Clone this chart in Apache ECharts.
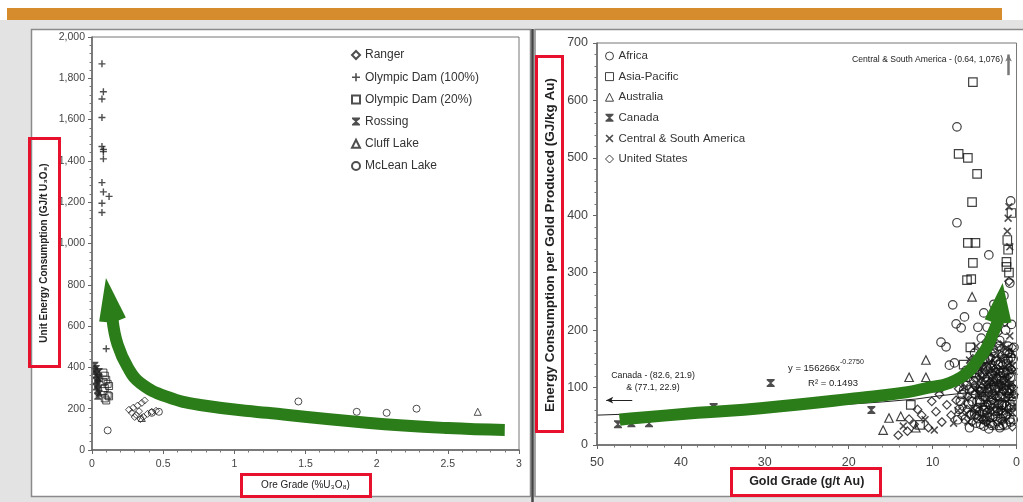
<!DOCTYPE html>
<html>
<head>
<meta charset="utf-8">
<script src="https://cdn.jsdelivr.net/npm/echarts@6/dist/echarts.min.js"></script>
<style>
html,body{margin:0;padding:0;background:#fff;}
#chart{width:1023px;height:502px;}
</style>
</head>
<body>
<div id="chart"></div>
<script>
// ---------- Uranium: unit energy vs ore grade ----------
const uraniumSeriesNames = ['Ranger', 'Olympic Dam (100%)', 'Olympic Dam (20%)', 'Rossing', 'Cluff Lake', 'McLean Lake'];
const oreGradeTicks = [0, 0.5, 1, 1.5, 2, 2.5, 3];
const ranger = [[0.26,195],[0.28,180],[0.29,205],[0.31,170],[0.32,215],[0.33,188],[0.35,228],[0.36,160],[0.37,240],[0.39,175],[0.42,185],[0.45,190],[0.30,160],[0.34,150]];
const olympicDam100 = [[0.07,1870],[0.08,1735],[0.07,1700],[0.07,1610],[0.07,1470],[0.08,1455],[0.08,1445],[0.08,1410],[0.07,1295],[0.08,1250],[0.12,1228],[0.07,1195],[0.07,1150],[0.10,490]];
const olympicDam20 = [[0.08,375],[0.09,360],[0.10,340],[0.11,320],[0.09,300],[0.08,285],[0.11,265],[0.09,250],[0.10,240],[0.08,330],[0.12,310],[0.12,260]];
const rossing = [[0.02,410],[0.03,395],[0.02,380],[0.03,365],[0.04,350],[0.03,335],[0.04,320],[0.03,305],[0.04,290],[0.05,275],[0.04,260],[0.05,380],[0.05,345]];
const cluffLake = [[2.71,185],[0.35,155]];
const mcleanLake = [[0.11,95],[1.45,235],[1.86,185],[2.07,180],[2.28,200],[0.42,180],[0.47,185]];

// ---------- Gold: energy per kg vs gold grade ----------
const goldSeriesNames = ['Africa', 'Asia-Pacific', 'Australia', 'Canada', 'Central & South America', 'United States'];
const goldGradeTicks = [50, 40, 30, 20, 10, 0];
const africa = [[7.1,554],[7.1,387],[3.3,331],[7.6,244],[6.2,223],[7.2,211],[6.6,204],[9.0,179],[8.4,171],[8.0,139],[7.4,143],[0.8,282],[0.7,425],
  [6.8,62],[6.5,88],[6.1,45],[5.9,104],[5.7,71],[5.5,130],[5.4,52],[5.2,95],[5.0,160],[4.9,118],[4.8,38],[4.7,76],[4.5,142],[4.4,58],[4.3,101],[4.2,186],[4.1,125],
  [4.0,84],[3.9,33],[3.8,150],[3.7,66],[3.6,110],[3.5,205],[3.4,92],[3.3,170],[3.2,48],[3.1,134],[3.0,78],[2.9,196],[2.8,115],[2.7,58],[2.6,160],[2.5,98],[2.4,225],
  [2.3,41],[2.2,140],[2.1,72],[2.0,182],[1.9,120],[1.8,88],[1.7,232],[1.6,55],[1.5,150],[1.4,104],[1.3,200],[1.2,68],[1.1,130],[1.0,172],[0.9,90],[0.8,45],[0.7,118],
  [0.6,210],[0.5,76],[0.4,150],[3.3,28],[2.0,30],[1.2,35],[5.6,30],[4.6,205],[3.9,230],[2.7,245],[1.5,260],
  [5.8,118],[5.6,96],[5.3,76],[5.1,112],[4.9,88],[4.7,132],[4.6,64],[4.4,122],[4.3,74],[4.1,98],[4.0,146],[3.9,62],[3.8,118],[3.7,84],[3.6,136],[3.5,56],
  [3.4,118],[3.3,98],[3.2,152],[3.1,70],[3.0,124],[2.9,88],[2.8,168],[2.7,104],[2.6,72],[2.5,146],[2.4,116],[2.3,64],[2.2,100],[2.1,172],[2.0,84],[1.9,144],
  [1.8,112],[1.7,70],[1.6,126],[1.5,98],[1.4,164],[1.3,82],[1.2,142],[1.1,92],[1.0,148],[0.9,124],[0.8,98],[0.7,152],[0.6,66],[0.5,118],[0.4,84],[0.3,170],
  [4.6,46],[3.9,44],[3.1,38],[2.5,50],[1.9,46],[1.3,52],[0.7,40],[5.0,54],[2.9,34],[4.3,36],[1.6,36],[0.4,44],[6.3,96],[6.0,130],[6.7,76],[7.0,44]];
const asiaPacific = [[5.2,632],[6.9,507],[5.8,500],[4.7,472],[5.3,423],[0.6,404],[5.8,352],[4.9,352],[5.2,317],[5.9,287],[5.4,289],[1.1,357],[1.2,319],[1.2,310],[0.9,300],[1.0,340],
  [4.4,80],[3.0,100],[2.2,60],[1.5,126],[0.8,70],[5.5,170],[6.3,140],[1.2,95],[12.6,70],[11.5,35],
  [4.2,92],[3.4,150],[2.6,96],[1.8,70],[1.1,160],[0.5,96],[5.0,126],[3.8,60]];
const australia = [[5.3,258],[10.8,148],[12.8,118],[10.8,118],[15.9,26],[15.2,47],[4.0,108],[2.8,140],[1.9,34],[0.6,160],[13.8,50],[12.0,30],[9.3,100],[3.6,50]];
const canada = [[47.5,36],[45.9,38],[43.8,38],[36.1,66],[29.3,108],[17.3,61]];
const centralSouthAmerica = [[7.5,38],[7.0,60],[6.6,110],[6.0,80],[5.6,148],[5.2,64],[4.8,172],[4.5,112],[4.2,48],[3.8,96],[3.5,138],[3.2,188],[2.9,62],[2.6,116],
  [2.3,92],[2.0,150],[1.7,108],[1.5,42],[1.3,168],[1.0,112],[0.8,190],[0.5,56],[0.3,128],[13.5,33],[10.9,44],[9.8,26],[0.9,415],[1.1,372],[0.8,345],[1.0,395],
  [6.2,100],[5.8,40],[5.4,122],[5.0,96],[4.7,56],[4.5,88],[4.2,116],[3.9,140],[3.7,52],[3.5,80],[3.3,126],[3.1,92],[2.9,114],[2.7,130],[2.5,68],[2.4,104],
  [2.2,122],[2.0,62],[1.8,134],[1.6,78],[1.4,118],[1.2,104],[1.0,58],[0.9,142],[0.7,104],[0.5,138],[0.4,66],[3.4,160],[2.4,160],[1.6,176]];
const unitedStates = [[7.8,52],[7.2,78],[6.9,98],[6.4,66],[6.2,118],[5.8,84],[5.3,40],[5.1,138],[4.9,62],[4.6,98],[4.3,160],[4.0,44],[3.9,122],[3.6,180],[3.4,70],
  [3.2,108],[3.0,152],[2.8,36],[2.6,86],[2.5,128],[2.3,176],[2.1,104],[1.9,60],[1.8,156],[1.6,94],[1.4,214],[1.3,126],[1.1,52],[0.9,160],[0.7,84],[0.6,132],[0.4,100],
  [14.1,17],[13.0,24],[12.2,36],[11.3,52],[10.5,30],[9.6,58],[8.9,40],[8.3,70],[9.2,88],[11.8,62],[12.8,45],[10.1,76],[0.9,285],
  [5.9,62],[5.5,112],[5.2,150],[4.9,102],[4.6,128],[4.4,94],[4.2,140],[4.0,66],[3.8,82],[3.7,128],[3.5,104],[3.3,62],[3.1,110],[2.9,142],[2.8,78],[2.6,132],
  [2.4,82],[2.3,118],[2.1,58],[2.0,128],[1.8,104],[1.7,140],[1.5,112],[1.4,72],[1.2,118],[1.0,86],[0.8,136],[0.6,102],[0.5,170],[0.3,88],[4.8,52],[3.6,40],
  [2.7,48],[1.7,42],[1.0,62],[5.6,54],[6.5,50],[0.5,32],[3.0,180],[2.2,196]];
// power-law trend line
const goldTrend = [[50,52],[40,57],[30,63],[20,71],[16,75],[12,80],[9,86],[6.5,90],[5,93]];

// ---------- highlight arrows (data coordinates) ----------
const uraniumArrowPath = [[2.9,97],[2.5,106],[1.93,132],[1.23,180],[0.76,218],[0.53,257],[0.34,324],[0.25,402],[0.18,510],[0.144,632]];
const uraniumArrowHead = [0.144, 632, 0.098, 833];
const goldArrowPath = [[47.3,44],[46,46],[38,56],[30.5,64],[18.7,82],[13,92],[10.5,100],[8,108],[5.8,127],[4.6,148],[3.6,168],[2.7,198],[2.2,216]];
const goldArrowHead = [2.2, 216, 1.65, 282];

const FONT = '"Liberation Sans", Arial, sans-serif';
const GREEN = '#2b7d19';
const INK = '#222';

const PLUS = 'path://M4,0H6V4H10V6H6V10H4V6H0V4H4Z';
const CROSS = 'path://M1.4,0L5,3.6L8.6,0L10,1.4L6.4,5L10,8.6L8.6,10L5,6.4L1.4,10L0,8.6L3.6,5L0,1.4Z';
const BOWTIE = 'path://M0,0H10V1.6L6,5L10,8.4V10H0V8.4L4,5L0,1.6Z';

const hollow = {color: 'rgba(255,255,255,0)', borderColor: INK, borderWidth: 1};
const hollowGold = {color: 'rgba(255,255,255,0)', borderColor: '#111', borderWidth: 1.2};
const solid = {color: INK, borderWidth: 0};

function scatter(name, data, symbol, gi, size, style) {
  return {
    type: 'scatter', name, data, symbol, symbolSize: size,
    xAxisIndex: gi, yAxisIndex: gi, itemStyle: style,
    emphasis: {disabled: true}, z: 3
  };
}

function arrowShaft(data, gi, width) {
  return {
    type: 'line', data, xAxisIndex: gi, yAxisIndex: gi, smooth: 0.45,
    symbol: 'none', silent: true, clip: false, z: 6,
    lineStyle: {color: GREEN, width, cap: 'butt', join: 'round'}
  };
}

function arrowHead(head, gi, halfWidth) {
  return {
    type: 'custom', xAxisIndex: gi, yAxisIndex: gi, silent: true, clip: false, z: 6,
    data: [head],
    renderItem(params, api) {
      const b = api.coord([api.value(0), api.value(1)]);
      const t = api.coord([api.value(2), api.value(3)]);
      const dx = t[0] - b[0], dy = t[1] - b[1];
      const len = Math.hypot(dx, dy);
      const nx = -dy / len, ny = dx / len;
      return {
        type: 'polygon',
        shape: {points: [
          [b[0] + nx * halfWidth, b[1] + ny * halfWidth],
          [t[0], t[1]],
          [b[0] - nx * halfWidth, b[1] - ny * halfWidth],
          [b[0] - dx * 0.08, b[1] - dy * 0.08]
        ]},
        style: {fill: GREEN}
      };
    }
  };
}

function valueAxis(gi, min, max, interval, labelSize, extra) {
  return Object.assign({
    type: 'value', gridIndex: gi, min, max, interval, z: 5,
    axisLine: {show: true, onZero: false, lineStyle: {color: '#666', width: 1.5}},
    axisTick: {show: true, length: 4, lineStyle: {color: '#666'}},
    minorTick: {show: true, splitNumber: 5, length: 2.5, lineStyle: {color: '#777'}},
    splitLine: {show: false},
    axisLabel: {fontSize: labelSize, color: '#444', fontFamily: FONT}
  }, extra || {});
}

const chart = echarts.init(document.getElementById('chart'), null, {renderer: 'canvas'});

const option = {
  animation: false,
  backgroundColor: '#fff',
  textStyle: {fontFamily: FONT},
  grid: [
    {left: 92, top: 37, width: 427, height: 413, show: true, borderColor: '#777', borderWidth: 1, backgroundColor: 'transparent', z: 4},
    {left: 597, top: 43, width: 425, height: 402, show: true, borderColor: '#777', borderWidth: 1, backgroundColor: 'transparent', z: 4}
  ],
  xAxis: [
    valueAxis(0, oreGradeTicks[0], oreGradeTicks[oreGradeTicks.length - 1], 0.5, 10.5, {
      axisLabel: {fontSize: 10.5, color: '#444', fontFamily: FONT, margin: 9},
      name: 'Ore Grade (%U\u2083O\u2088)', nameLocation: 'middle', nameGap: 30,
      nameTextStyle: {fontSize: 10, color: INK, fontFamily: FONT}
    }),
    valueAxis(1, goldGradeTicks[goldGradeTicks.length - 1], goldGradeTicks[0], 10, 12.5, {
      inverse: true,
      axisLabel: {fontSize: 12.5, color: '#444', fontFamily: FONT, margin: 11},
      name: 'Gold Grade (g/t Au)', nameLocation: 'middle', nameGap: 30,
      nameTextStyle: {fontSize: 12.5, fontWeight: 'bold', color: INK, fontFamily: FONT}
    })
  ],
  yAxis: [
    valueAxis(0, 0, 2000, 200, 10.5, {
      axisLabel: {fontSize: 10.5, color: '#444', fontFamily: FONT, margin: 7,
        formatter: v => v.toLocaleString('en-US')}
    }),
    valueAxis(1, 0, 700, 100, 12.5, {
      axisLabel: {fontSize: 12.5, color: '#444', fontFamily: FONT, margin: 9}
    })
  ],
  legend: [
    {
      data: uraniumSeriesNames, orient: 'vertical', left: 346, top: 43,
      itemWidth: 8, itemHeight: 8, itemGap: 8.2, itemTextGap: 5, selectedMode: false,
      textStyle: {fontSize: 12, lineHeight: 14, color: '#333', fontFamily: FONT}
    },
    {
      data: goldSeriesNames, orient: 'vertical', left: 600, top: 44,
      itemWidth: 8, itemHeight: 8, itemGap: 6.6, itemTextGap: 5, selectedMode: false,
      itemStyle: {borderWidth: 1},
      textStyle: {fontSize: 11.5, lineHeight: 14, color: '#333', fontFamily: FONT}
    }
  ],
  graphic: [
    // page backdrop and panels
    {type: 'rect', z: 0, silent: true, shape: {x: 0, y: 20, width: 1023, height: 482}, style: {fill: '#e3e3e3'}},
    {type: 'rect', z: 0, silent: true, shape: {x: 7, y: 8, width: 995, height: 12}, style: {fill: '#d68b2c'}},
    {type: 'rect', z: 0, silent: true, shape: {x: 31.5, y: 29.5, width: 499, height: 467}, style: {fill: '#fff', stroke: '#8a8a8a', lineWidth: 1.5}},
    {type: 'rect', z: 0, silent: true, shape: {x: 535, y: 29.5, width: 490, height: 467}, style: {fill: '#fff', stroke: '#8a8a8a', lineWidth: 1.5}},
    {type: 'line', z: 1, silent: true, shape: {x1: 532.5, y1: 29, x2: 532.5, y2: 502}, style: {stroke: '#444', lineWidth: 2.5}},
    // vertical axis titles
    {type: 'text', z: 10, silent: true, x: 44, y: 253, rotation: Math.PI / 2,
      style: {text: 'Unit Energy Consumption (GJ/t U\u2083O\u2088)', fontSize: 10, fontWeight: 'bold', fontFamily: FONT, fill: INK, align: 'center', verticalAlign: 'middle'}},
    {type: 'text', z: 10, silent: true, x: 550, y: 245, rotation: Math.PI / 2,
      style: {text: 'Energy Consumption per Gold Produced (GJ/kg Au)', fontSize: 13.5, fontWeight: 'bold', fontFamily: FONT, fill: INK, align: 'center', verticalAlign: 'middle'}},
    // annotations on the gold panel
    {type: 'text', z: 10, silent: true, x: 1003, y: 60,
      style: {text: 'Central & South America - (0.64, 1,076)', fontSize: 8.6, fontFamily: FONT, fill: INK, align: 'right', verticalAlign: 'middle'}},
    {type: 'text', z: 10, silent: true, x: 653, y: 376,
      style: {text: 'Canada - (82.6, 21.9)', fontSize: 8.8, fontFamily: FONT, fill: INK, align: 'center', verticalAlign: 'middle'}},
    {type: 'text', z: 10, silent: true, x: 653, y: 388,
      style: {text: '& (77.1, 22.9)', fontSize: 8.8, fontFamily: FONT, fill: INK, align: 'center', verticalAlign: 'middle'}},
    {type: 'text', z: 10, silent: true, x: 788, y: 366,
      style: {text: '{m|y = 156266x}{s|-0.2750}', fontFamily: FONT, fill: INK, align: 'left', verticalAlign: 'middle',
        rich: {m: {fontSize: 9.5, fontFamily: FONT, fill: INK, lineHeight: 14, verticalAlign: 'bottom'}, s: {fontSize: 7, fontFamily: FONT, fill: INK, verticalAlign: 'top'}}}},
    {type: 'text', z: 10, silent: true, x: 833, y: 383,
      style: {text: 'R\u00b2 = 0.1493', fontSize: 9.5, fontFamily: FONT, fill: INK, align: 'center', verticalAlign: 'middle'}},
    // red emphasis boxes around the axis titles
    {type: 'rect', z: 11, silent: true, shape: {x: 29.5, y: 138.5, width: 30, height: 228}, style: {fill: 'none', stroke: '#e8112d', lineWidth: 3}},
    {type: 'rect', z: 11, silent: true, shape: {x: 241.5, y: 474.5, width: 129, height: 22}, style: {fill: 'none', stroke: '#e8112d', lineWidth: 3}},
    {type: 'rect', z: 11, silent: true, shape: {x: 536.5, y: 56.5, width: 26, height: 375}, style: {fill: 'none', stroke: '#e8112d', lineWidth: 3}},
    {type: 'rect', z: 11, silent: true, shape: {x: 731.5, y: 468.5, width: 149, height: 27}, style: {fill: 'none', stroke: '#e8112d', lineWidth: 3}}
  ],
  series: [
    scatter('Ranger', ranger, 'diamond', 0, 7, hollow),
    scatter('Olympic Dam (100%)', olympicDam100, PLUS, 0, 7, solid),
    scatter('Olympic Dam (20%)', olympicDam20, 'rect', 0, 7, hollow),
    scatter('Rossing', rossing, BOWTIE, 0, 7, solid),
    scatter('Cluff Lake', cluffLake, 'triangle', 0, 7, hollow),
    scatter('McLean Lake', mcleanLake, 'circle', 0, 7, hollow),

    scatter('Africa', africa, 'circle', 1, 8.5, hollowGold),
    scatter('Asia-Pacific', asiaPacific, 'rect', 1, 8.5, hollowGold),
    scatter('Australia', australia, 'triangle', 1, 8.5, hollowGold),
    scatter('Canada', canada, BOWTIE, 1, 8, solid),
    scatter('Central & South America', centralSouthAmerica, CROSS, 1, 8, solid),
    scatter('United States', unitedStates, 'diamond', 1, 8.5, hollowGold),

    {
      type: 'line', data: goldTrend, xAxisIndex: 1, yAxisIndex: 1, symbol: 'none', silent: true, z: 4,
      lineStyle: {color: INK, width: 1},
      markLine: {
        silent: true, symbol: ['none', 'arrow'], symbolSize: [5, 7], label: {show: false},
        lineStyle: {color: INK, width: 1, type: 'solid'},
        data: [
          [{coord: [45.8, 78]}, {coord: [48.9, 78]}],
          [{coord: [0.95, 644], lineStyle: {color: '#777', width: 2.5, type: 'solid'}}, {coord: [0.95, 680]}]
        ]
      }
    },

    arrowShaft(uraniumArrowPath, 0, 12),
    arrowHead(uraniumArrowHead, 0, 13.5),
    arrowShaft(goldArrowPath, 1, 12),
    arrowHead(goldArrowHead, 1, 13.5)
  ]
};

chart.setOption(option);
</script>
</body>
</html>
